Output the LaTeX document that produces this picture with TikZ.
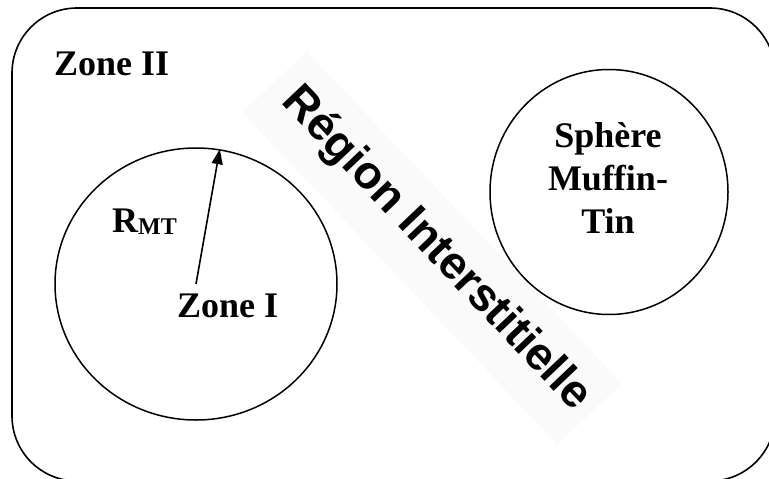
\documentclass[tikz,border=0pt]{standalone}
\usepackage{fontspec}
\setmainfont{Liberation Serif}
\newfontfamily\arialfont{Liberation Sans}
\usetikzlibrary{shapes.geometric,arrows.meta}
\tikzset{
  zone/.style={draw=black, line width=1.5pt, ellipse, inner sep=0pt},
  lbl/.style={font=\fontsize{36}{43}\selectfont\bfseries, inner sep=0pt, align=center},
}
\begin{document}
\begin{tikzpicture}[x=1pt,y=-1pt]
\useasboundingbox (0,0) rectangle (769,479);
\begin{scope}
\clip (0,0) rectangle (769,479);
\node[draw=black, line width=1.6pt, rounded corners=65pt, minimum width=763pt, minimum height=473pt, inner sep=0pt] (box) at (393.5,244.5) {};
\end{scope}
% faint band behind rotated text
\node[fill=black!2, rotate=-46.5, minimum width=458pt, minimum height=89pt, inner sep=0pt] (band) at (432,248) {};
\node[rotate=-46.5, font=\arialfont\fontsize{46}{46}\selectfont\bfseries, inner sep=0pt] (region) at (436,249) {Région Interstitielle};
\node[zone, minimum width=282pt, minimum height=272pt] (c1) at (196,284) {};
\node[zone, minimum width=238pt, minimum height=245pt] (c2) at (609,192) {};
\node[lbl, anchor=base west] (z2) at (54,75) {Zone II};
\node[lbl, anchor=base west] (z1) at (177,317) {Zone I};
\node[lbl, anchor=base west] (rmt) at (112,232) {R\raisebox{-2pt}{\fontsize{24}{24}\selectfont MT}};
\node[lbl, anchor=base] (sph) at (608,233) {Sphère\\Muffin-\\Tin};
\draw[line width=1.6pt, -{Triangle[length=15pt,width=11pt]}] (c1.center) -- (c1.80.5);
\end{tikzpicture}
\end{document}
